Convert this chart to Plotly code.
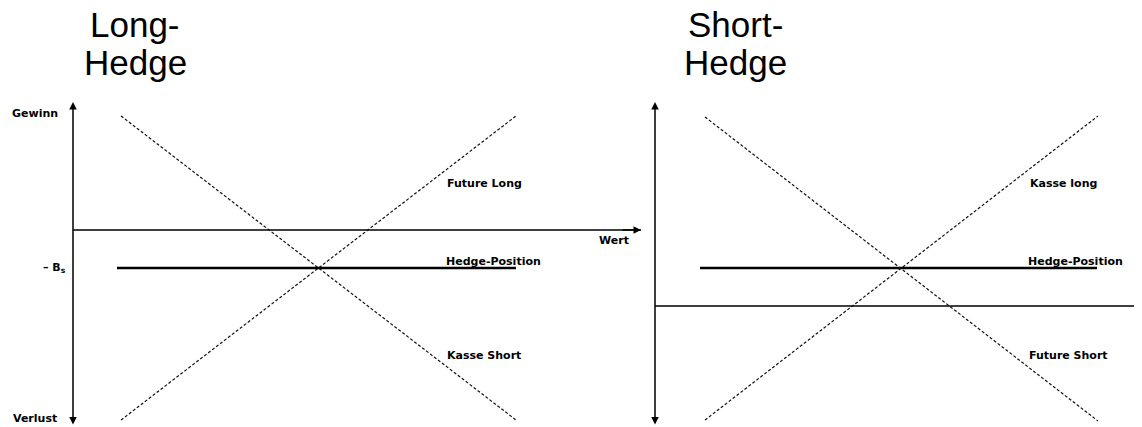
import plotly.graph_objects as go

# ---------------- data (schematic units, origin at axis crossing) ----------------
# Long-Hedge panel
long_axis_profit = [128, -196]          # extent of the profit axis (Gewinn / Verlust)
long_value_axis = [0, 568]              # extent of the value axis (Wert)
long_hedge_x = [44, 443]
long_hedge_level = -38                  # - B_s
long_line_x = [48, 443]
long_kasse_short = [114, -190]
long_future_long = [-190, 114]

# Short-Hedge panel
short_axis_profit = [204, -120]
short_zero_line_x = [0, 487]
short_hedge_x = [45, 442]
short_hedge_level = 38                  # B_s
short_line_x = [50, 443]
short_future_short = [189, -115]
short_kasse_long = [-114, 190]

# page has an 8px body margin, so the figure is a bit smaller than the window
W, H = 1134, 419
split = 642 / W

fig = go.Figure()

dash_style = dict(color="#111", width=1.2, dash="3px,2px")
solid = dict(color="black", width=1.4)
thick = dict(color="black", width=2.6)

# left panel traces
fig.add_trace(go.Scatter(x=long_value_axis, y=[0, 0], mode="lines", line=solid, xaxis="x", yaxis="y"))
fig.add_trace(go.Scatter(x=long_hedge_x, y=[long_hedge_level] * 2, mode="lines", line=thick, xaxis="x", yaxis="y"))
fig.add_trace(go.Scatter(x=long_line_x, y=long_kasse_short, mode="lines", line=dash_style, xaxis="x", yaxis="y"))
fig.add_trace(go.Scatter(x=long_line_x, y=long_future_long, mode="lines", line=dash_style, xaxis="x", yaxis="y"))

# right panel traces
fig.add_trace(go.Scatter(x=short_zero_line_x, y=[0, 0], mode="lines", line=solid, xaxis="x2", yaxis="y2"))
fig.add_trace(go.Scatter(x=short_hedge_x, y=[short_hedge_level] * 2, mode="lines", line=thick, xaxis="x2", yaxis="y2"))
fig.add_trace(go.Scatter(x=short_line_x, y=short_future_short, mode="lines", line=dash_style, xaxis="x2", yaxis="y2"))
fig.add_trace(go.Scatter(x=short_line_x, y=short_kasse_long, mode="lines", line=dash_style, xaxis="x2", yaxis="y2"))

ann = []

def arrow(xr, yr, x, y, ax, ay, both=False):
    d = dict(xref=xr, yref=yr, axref=xr, ayref=yr, x=x, y=y, ax=ax, ay=ay, text="",
             showarrow=True, arrowhead=2, arrowsize=1, arrowwidth=1.5, arrowcolor="black")
    if both:
        d.update(arrowside="end+start", startarrowhead=2, startarrowsize=1)
    ann.append(d)

# axes with arrows
arrow("x", "y", 0, long_axis_profit[0], 0, long_axis_profit[1], both=True)
arrow("x", "y", long_value_axis[1], 0, long_value_axis[1] - 20, 0)
arrow("x2", "y2", 0, short_axis_profit[0], 0, short_axis_profit[1], both=True)

lbl_font = dict(family="DejaVu Sans", size=11, color="black", weight="bold")

def label(xr, yr, x, y, text, xanchor):
    ann.append(dict(xref=xr, yref=yr, x=x, y=y, text=text, showarrow=False,
                    xanchor=xanchor, yanchor="middle", font=lbl_font))

# left labels
label("x", "y", -13, 117, "Gewinn", "right")
label("x", "y", -14, -188, "Verlust", "right")
label("x", "y", -5, long_hedge_level, "– B<sub>s</sub>", "right")
label("x", "y", 372, 47, "Future Long", "left")
label("x", "y", 558, -10, "Wert", "right")
label("x", "y", 371, -31, "Hedge-Position", "left")
label("x", "y", 372, -125, "Kasse Short", "left")

# right labels
label("x2", "y2", -14, 193, "Gewinn", "right")
label("x2", "y2", -14, -112, "Verlust", "right")
label("x2", "y2", -7, short_hedge_level, "B<sub>s</sub>", "right")
label("x2", "y2", 373, 123, "Kasse long", "left")
label("x2", "y2", 371, 45, "Hedge-Position", "left")
label("x2", "y2", 372, -49, "Future Short", "left")

# titles
title_font = dict(family="Liberation Sans, Arial", size=35, color="black")
for xr, yr, x, lines in [("x", "y", 62, ["Long-", "Hedge"]), ("x2", "y2", 80, ["Short-", "Hedge"])]:
    top = 230 if xr == "x" else 306
    for i, t in enumerate(lines):
        ann.append(dict(xref=xr, yref=yr, x=x, y=top - 24 - 38 * i, text=t, showarrow=False,
                        xanchor="center", yanchor="middle", font=title_font))

axis_common = dict(visible=False, showgrid=False, zeroline=False, fixedrange=True)

fig.update_layout(
    width=W, height=H,
    margin=dict(l=0, r=0, t=0, b=0),
    paper_bgcolor="white", plot_bgcolor="white",
    showlegend=False,
    xaxis=dict(domain=[0, split], range=[-65, 577], **axis_common),
    yaxis=dict(domain=[0, 1], range=[-197, 222], **axis_common),
    xaxis2=dict(domain=[split, 1], range=[-5, 487], **axis_common),
    yaxis2=dict(domain=[0, 1], range=[-121, 298], anchor="x2", **axis_common),
    annotations=ann,
)

fig.write_html("out.html")
